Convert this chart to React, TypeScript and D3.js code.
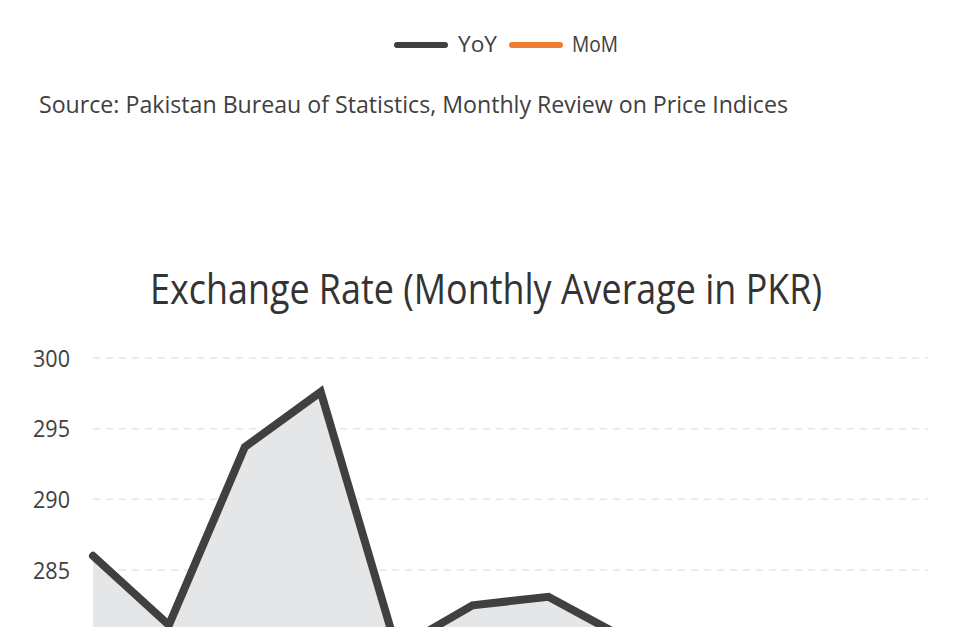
import React from "react";
import * as d3 from "d3";

const months = ["Jun-23", "Jul-23", "Aug-23", "Sep-23", "Oct-23", "Nov-23", "Dec-23", "Jan-24", "Feb-24", "Mar-24", "Apr-24", "May-24"];
const rates = [286.0, 281.1, 293.7, 297.6, 279.4, 282.5, 283.1, 280.2, 279.2, 279.0, 278.3, 278.2];
const yTicks = [285, 290, 295, 300];
const legendItems = ["YoY", "MoM"];
const legendColors = ["#404040", "#ed7d31"];
const titleText = "Exchange Rate (Monthly Average in PKR)";
const sourceText = "Source: Pakistan Bureau of Statistics, Monthly Review on Price Indices";

const W = 971;
const H = 780;
const FONT = "'Open Sans', sans-serif";

export default function App() {
  const x = d3.scalePoint<string>().domain(months).range([93, 928]);
  const y = d3.scaleLinear().domain([275, 300]).range([711.3, 358]);

  const line = d3
    .line<number>()
    .x((_, i) => x(months[i]) as number)
    .y((d) => y(d));
  const area = d3
    .area<number>()
    .x((_, i) => x(months[i]) as number)
    .y0(y(275))
    .y1((d) => y(d));

  const legendSwatchX = [397, 512];
  const legendTextX = [458, 572];
  const legendTextW = [39, 46];

  return (
    <svg
      width={W}
      height={H}
      style={{ position: "absolute", left: 0, top: 0, background: "#fff" }}
      fontFamily={FONT}
    >
      {/* legend */}
      {legendItems.map((name, i) => (
        <g key={name}>
          <line
            x1={legendSwatchX[i]}
            x2={legendSwatchX[i] + 48}
            y1={45}
            y2={45}
            stroke={legendColors[i]}
            strokeWidth={6}
            strokeLinecap="round"
          />
          <text
            x={legendTextX[i]}
            y={51.7}
            fontSize={21}
            fill="#404040"
            textLength={legendTextW[i]}
            lengthAdjust="spacingAndGlyphs"
          >
            {name}
          </text>
        </g>
      ))}

      {/* source */}
      <text x={39} y={113.3} fontSize={23} fill="#404040" textLength={749} lengthAdjust="spacingAndGlyphs">
        {sourceText}
      </text>

      {/* title */}
      <text x={150} y={304} fontSize={42} fill="#333333" textLength={672} lengthAdjust="spacingAndGlyphs">
        {titleText}
      </text>

      {/* grid + y labels */}
      {yTicks.map((t) => (
        <g key={t}>
          <line
            x1={93}
            x2={928}
            y1={y(t)}
            y2={y(t)}
            stroke="#e6e6e6"
            strokeWidth={1.5}
            strokeDasharray="7,6"
          />
          <text
            x={70}
            y={y(t)}
            dy="0.36em"
            textAnchor="end"
            fontSize={24}
            fill="#404040"
            textLength={37}
            lengthAdjust="spacingAndGlyphs"
          >
            {t}
          </text>
        </g>
      ))}

      {/* area + line */}
      <path d={area(rates) || ""} fill="#e5e6e8" />
      <path
        d={line(rates) || ""}
        fill="none"
        stroke="#404040"
        strokeWidth={8}
        strokeLinejoin="miter"
        strokeLinecap="round"
      />
    </svg>
  );
}
